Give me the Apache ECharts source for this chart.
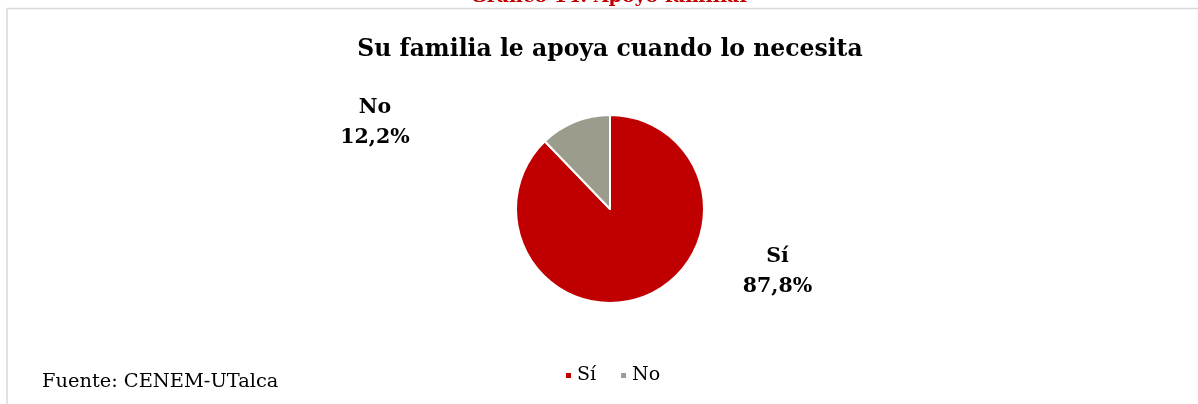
<!DOCTYPE html>
<html>
<head>
<meta charset="utf-8">
<script src="https://cdn.jsdelivr.net/npm/echarts@6/dist/echarts.min.js"></script>
<style>
html,body{margin:0;padding:0;background:#fff;}
#chart{width:1198px;height:404px;}
</style>
</head>
<body>
<div id="chart"></div>
<script>
const categories = ['Sí', 'No'];
const values = [87.8, 12.2];
const colors = ['#C00000', '#9C9C8C'];
const chartTitle = 'Su familia le apoya cuando lo necesita';
const figureCaption = 'Gráfico 14: Apoyo familiar';
const sourceNote = 'Fuente: CENEM-UTalca';
// label anchor positions (fractions of chart width/height)
const labelAnchors = [[0.649, 0.672], [0.313, 0.304]];

const serif = '"DejaVu Serif", "Liberation Serif", serif';
const chart = echarts.init(document.getElementById('chart'));
chart.setOption({
  animation: false,
  title: {
    text: chartTitle,
    left: 605,
    textAlign: 'center',
    top: 33,
    textStyle: { fontFamily: serif, fontSize: 23.5, fontWeight: 'bold', color: '#000' }
  },
  legend: {
    data: categories,
    left: 559,
    top: 361,
    icon: 'rect',
    itemWidth: 7,
    itemHeight: 7,
    itemGap: 23,
    textStyle: { fontFamily: serif, fontSize: 19, color: '#000' }
  },
  graphic: [
    { type: 'rect', shape: { x: 7, y: 8.5, width: 1200, height: 420 }, style: { fill: 'none', stroke: '#d9d9d9', lineWidth: 1.5 }, silent: true },
    { type: 'text', x: 610, y: 7, style: { text: figureCaption, align: 'center', verticalAlign: 'bottom', fontFamily: serif, fontSize: 19, fontWeight: 'bold', fill: '#C00000' } },
    { type: 'text', left: 42, top: 372, style: { text: sourceNote, fontFamily: serif, fontSize: 19.4, fill: '#000' } }
  ],
  series: [{
    type: 'pie',
    center: [610, 209],
    radius: 94,
    startAngle: 90,
    clockwise: true,
    data: categories.map((c, i) => ({ name: c, value: values[i], itemStyle: { color: colors[i] } })),
    itemStyle: { borderColor: '#fff', borderWidth: 2 },
    label: {
      show: true,
      position: 'outside',
      formatter: p => p.name + '\n' + p.value.toFixed(1).replace('.', ',') + '%',
      fontFamily: serif,
      fontSize: 20.5,
      fontWeight: 'bold',
      color: '#000',
      lineHeight: 30,
      align: 'center'
    },
    labelLine: { show: false },
    labelLayout: function (params) {
      const a = labelAnchors[params.dataIndex];
      return { x: a[0] * 1198, y: a[1] * 404, align: 'center', verticalAlign: 'middle' };
    },
    emphasis: { disabled: true }
  }]
});
</script>
</body>
</html>
